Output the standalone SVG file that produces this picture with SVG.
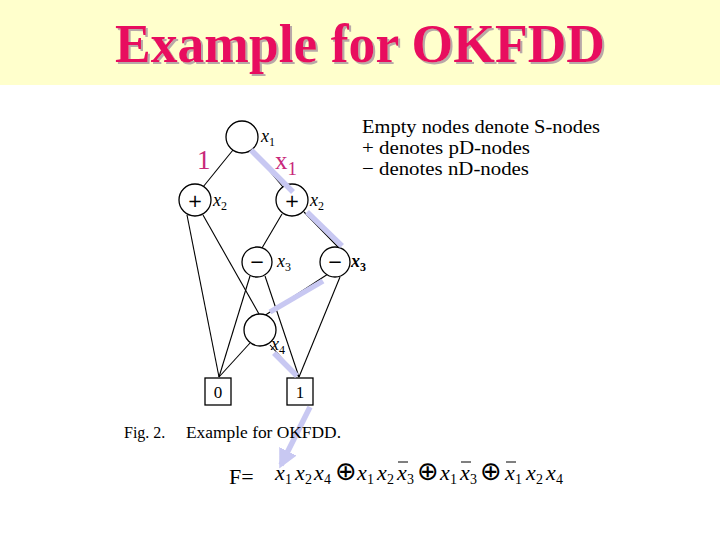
<svg xmlns="http://www.w3.org/2000/svg" width="720" height="540" viewBox="0 0 720 540">
<defs>
<style>
.node{fill:#fff;stroke:#000;stroke-width:1.3}
.edge{stroke:#000;stroke-width:1.1;fill:none}
.hl{stroke:#C8C8F2;stroke-width:5.5;fill:none;stroke-linecap:butt}
.lbl{font-style:italic;font-size:18px;fill:#000}
.sub{font-size:12px;font-style:normal}
.sym{font-size:18px;fill:#000;text-anchor:middle}
.op{font-family:"DejaVu Sans",sans-serif;font-size:26px;fill:#000;text-anchor:middle}
.fx{font-style:italic;font-size:22px;fill:#000}
.fs{font-size:14px;fill:#000}
.leg{font-size:19px;fill:#000}
</style>
<marker id="ah" viewBox="0 0 10 10" refX="8" refY="5" markerWidth="3.5" markerHeight="3.5" orient="auto" markerUnits="strokeWidth">
<path d="M0,0 L10,5 L0,10 z" fill="#C8C8F2"/>
</marker>
<filter id="shadow" x="-5%" y="-20%" width="110%" height="140%">
<feOffset in="SourceAlpha" dx="2" dy="2" result="off"/>
<feFlood flood-color="#B8A8A8"/>
<feComposite in2="off" operator="in" result="sh"/>
<feMerge><feMergeNode in="sh"/><feMergeNode in="SourceGraphic"/></feMerge>
</filter>
</defs>
<rect x="0" y="0" width="720" height="540" fill="#fff"/>
<rect x="0" y="0" width="720" height="85" fill="#FFFFCC"/>
<g id="title">
<text font-family="'Liberation Serif','Times New Roman',serif" font-weight="bold" font-size="54" x="115" y="62" fill="#E8105E" textLength="490" lengthAdjust="spacingAndGlyphs" filter="url(#shadow)">Example for OKFDD</text>
</g>
<g id="connectors">
<line class="edge" x1="233" y1="150" x2="203" y2="187"/>
<line class="edge" x1="252" y1="150" x2="283" y2="187"/>
<line class="edge" x1="187" y1="215" x2="219" y2="377"/>
<line class="edge" x1="203" y1="215" x2="259" y2="314"/>
<line class="edge" x1="282" y1="214" x2="262" y2="248"/>
<line class="edge" x1="304" y1="212" x2="340" y2="249"/>
<line class="edge" x1="250" y1="276" x2="219" y2="377"/>
<line class="edge" x1="265" y1="276" x2="299" y2="377"/>
<line class="edge" x1="328" y1="274" x2="264" y2="316"/>
<line class="edge" x1="340" y1="277" x2="299" y2="377"/>
<line class="edge" x1="250" y1="343" x2="219" y2="377"/>
<line class="edge" x1="270" y1="345" x2="299" y2="377"/>
</g>
<g font-family="'Liberation Serif','Times New Roman',serif">
<g id="n1"><circle class="node" cx="242" cy="137" r="16"/><text class="lbl" x="261" y="142">x<tspan class="sub" dy="4">1</tspan></text></g>
<g id="n2a"><circle class="node" cx="195" cy="200" r="16"/><text class="sym" font-family="'DejaVu Sans',sans-serif" x="195" y="207">+</text><text class="lbl" x="213" y="206">x<tspan class="sub" dy="4">2</tspan></text></g>
<g id="n2b"><circle class="node" cx="292" cy="200" r="16"/><text class="sym" font-family="'DejaVu Sans',sans-serif" x="292" y="207">+</text><text class="lbl" x="310" y="206">x<tspan class="sub" dy="4">2</tspan></text></g>
<g id="n3a"><circle class="node" cx="257" cy="262" r="15"/><text class="sym" font-family="'DejaVu Sans',sans-serif" x="257" y="268" fill="#888">−</text><text class="lbl" x="277" y="267">x<tspan class="sub" dy="4">3</tspan></text></g>
<g id="n3b"><circle class="node" cx="335" cy="262" r="15"/><text class="sym" font-family="'DejaVu Sans',sans-serif" x="335" y="268">−</text><text class="lbl" x="351" y="267" font-weight="bold">x<tspan class="sub" dy="4">3</tspan></text></g>
<g id="n4"><circle class="node" cx="260" cy="330" r="16"/><text class="lbl" x="271" y="350">x<tspan class="sub" dy="4">4</tspan></text></g>
<g id="t0"><rect class="node" x="205" y="378" width="26" height="27"/><text x="218" y="398" font-size="17" text-anchor="middle">0</text></g>
<g id="t1"><rect class="node" x="287" y="378" width="26" height="27"/><text x="300" y="398" font-size="17" text-anchor="middle">1</text></g>
</g>
<g id="highlight">
<line class="hl" x1="251" y1="150" x2="293" y2="192"/>
<line class="hl" x1="307" y1="212" x2="342" y2="246"/>
<line class="hl" x1="323" y1="281" x2="270" y2="312"/>
<line class="hl" x1="274" y1="353" x2="297" y2="376"/>
<line class="hl" x1="310" y1="407" x2="281" y2="465" marker-end="url(#ah)"/>
</g>
<g id="annot" font-family="'Liberation Serif','Times New Roman',serif" fill="#C8287A">
<text x="197" y="169" font-size="27">1</text>
<text x="275" y="169" font-size="25">x<tspan font-size="19" dy="6">1</tspan></text>
</g>
<g id="legend" font-family="'Liberation Serif','Times New Roman',serif">
<text class="leg" x="362" y="133" textLength="238" lengthAdjust="spacingAndGlyphs">Empty nodes denote S-nodes</text>
<text class="leg" x="362" y="154" textLength="168" lengthAdjust="spacingAndGlyphs">+ denotes pD-nodes</text>
<text class="leg" x="362" y="175" textLength="167" lengthAdjust="spacingAndGlyphs">− denotes nD-nodes</text>
</g>
<g id="caption" font-family="'Liberation Serif','Times New Roman',serif" font-size="16">
<text x="124" y="438">Fig. 2.</text>
<text x="186" y="438" textLength="155" lengthAdjust="spacingAndGlyphs">Example for OKFDD.</text>
</g>
<g id="formula" font-family="'Liberation Serif','Times New Roman',serif">
<text x="229" y="484" font-size="22">F=</text>
<text class="fx" y="480"><tspan x="275">x</tspan><tspan x="295">x</tspan><tspan x="314">x</tspan></text>
<text class="fs" y="484"><tspan x="285">1</tspan><tspan x="305">2</tspan><tspan x="324">4</tspan></text>
<text class="op" x="346" y="480">⊕</text>
<text class="fx" y="480"><tspan x="357">x</tspan><tspan x="377">x</tspan><tspan x="397">x</tspan></text>
<text class="fs" y="484"><tspan x="367">1</tspan><tspan x="387">2</tspan><tspan x="407">3</tspan></text>
<line x1="398" y1="462" x2="408" y2="462" stroke="#000" stroke-width="1"/>
<text class="op" x="428" y="480">⊕</text>
<text class="fx" y="480"><tspan x="440">x</tspan><tspan x="460">x</tspan></text>
<text class="fs" y="484"><tspan x="450">1</tspan><tspan x="470">3</tspan></text>
<line x1="461" y1="462" x2="471" y2="462" stroke="#000" stroke-width="1"/>
<text class="op" x="491" y="480">⊕</text>
<text class="fx" y="480"><tspan x="505">x</tspan><tspan x="526">x</tspan><tspan x="546">x</tspan></text>
<text class="fs" y="484"><tspan x="515">1</tspan><tspan x="536">2</tspan><tspan x="556">4</tspan></text>
<line x1="506" y1="462" x2="516" y2="462" stroke="#000" stroke-width="1"/>
</g>
</svg>
